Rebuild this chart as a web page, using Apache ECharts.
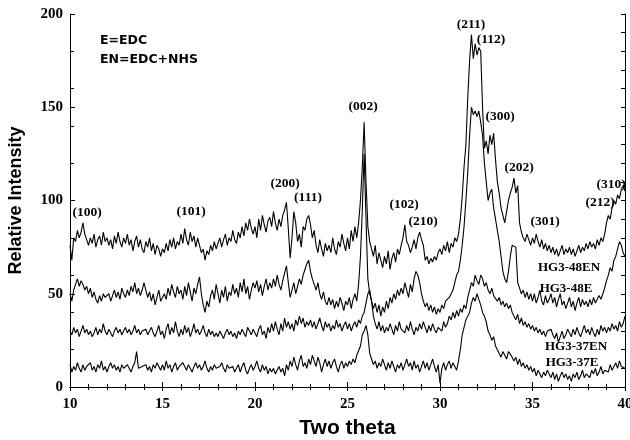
<!DOCTYPE html>
<html><head><meta charset="utf-8">
<script src="https://cdn.jsdelivr.net/npm/echarts@6/dist/echarts.min.js"></script>
<style>html,body{margin:0;padding:0;background:#fff}#c{width:630px;height:440px}</style>
</head><body><div id="c"></div>
<script>
// Two-theta grid: 10.0 to 40.0 in steps of 0.1
const thetaStart = 10, thetaStep = 0.1;
const xTickLabels = ['10','15','20','25','30','35','40'];
const yTickLabels = ['0','50','100','150','200'];
const seriesNames = ['HG3-48EN','HG3-48E','HG3-37EN','HG3-37E'];

const hg48EN = [
76,68,80,78,84,80,83,88,82,79,
76,80,77,82,75,79,81,76,83,78,
80,76,79,74,81,77,83,78,75,80,
77,82,76,79,73,78,81,75,79,74,
72,78,75,80,73,77,71,76,74,70,
74,72,77,73,79,75,80,74,78,76,
82,77,85,79,76,83,78,81,75,80,
76,72,74,68,73,71,76,73,78,74,
77,80,75,79,82,76,80,78,84,79,
77,83,80,86,81,88,84,90,85,82,
86,80,90,84,92,87,83,89,91,86,
94,88,84,90,86,92,95,99,85,69,
80,94,88,78,82,75,86,84,90,92,
87,80,84,76,72,79,74,70,77,73,
76,72,80,74,71,78,75,82,77,73,
80,74,84,78,86,80,88,100,118,142,
110,86,78,74,70,76,66,72,68,64,
70,66,73,63,69,72,67,74,71,76,
80,87,78,76,72,75,79,74,80,83,
79,76,68,70,66,69,67,70,68,72,
74,71,76,73,78,72,77,75,80,78,
82,90,102,118,130,155,175,189,176,184,
178,182,180,150,128,132,125,135,130,136,
122,110,104,96,92,88,94,100,104,107,
112,104,108,88,83,80,78,82,79,76,
80,77,82,78,75,79,74,77,73,76,
72,75,71,74,70,73,76,71,74,72,
75,71,74,70,73,76,72,75,73,77,
74,78,75,77,74,79,76,80,78,82,
88,92,90,96,100,98,103,101,106,108,
105];

const hg48E = [
50,46,52,55,58,54,57,55,52,54,
50,53,48,51,47,45,49,46,50,48,
47,50,46,49,52,48,51,47,53,50,
48,52,49,54,51,56,50,53,49,52,
56,52,48,51,46,50,44,48,52,46,
45,50,47,53,49,55,51,48,54,50,
52,47,54,49,56,51,46,53,50,55,
59,50,44,40,46,43,49,52,47,55,
50,45,52,48,54,46,51,49,55,50,
53,48,56,51,58,50,54,47,52,56,
53,57,51,55,49,54,58,52,56,53,
58,54,60,55,52,57,61,65,56,48,
52,56,50,54,58,55,60,63,66,68,
62,58,55,52,56,50,47,51,46,44,
48,44,47,42,46,43,48,45,41,46,
44,48,42,47,50,46,55,70,95,125,
90,58,50,46,42,45,40,44,38,43,
40,46,42,48,45,50,47,52,49,53,
50,56,52,48,55,51,58,62,60,56,
50,46,43,45,41,44,40,43,39,42,
40,44,42,46,45,48,50,52,56,60,
62,68,76,86,100,115,135,150,146,148,
145,148,142,135,120,110,100,104,106,96,
90,84,78,70,62,58,56,62,70,76,
77,75,56,53,50,52,48,51,47,50,
46,50,45,48,52,46,44,49,45,47,
50,45,48,43,47,50,44,46,42,45,
48,43,46,41,45,48,43,47,44,46,
43,47,44,48,45,46,49,47,50,53,
57,60,64,62,68,70,74,78,76,72,
70];

const hg37EN = [
30,28,32,29,31,27,30,33,29,31,
28,30,27,29,32,28,31,29,34,30,
28,31,29,27,30,32,29,31,28,30,
32,29,31,28,30,33,29,31,28,30,
29,31,28,30,32,29,27,30,33,28,
30,26,31,34,28,32,29,35,30,27,
31,28,33,29,32,27,30,34,29,31,
28,30,33,29,27,31,28,30,27,29,
27,30,28,26,29,31,28,30,27,29,
26,30,28,31,29,27,32,30,28,31,
29,27,31,33,28,30,26,32,29,34,
30,35,31,28,34,30,37,32,35,31,
34,30,36,33,38,34,37,32,35,33,
36,32,35,31,34,37,33,30,35,32,
34,30,33,31,36,32,34,30,33,35,
31,34,30,33,35,32,36,34,38,40,
45,50,52,46,38,34,31,35,30,33,
29,32,30,34,31,28,33,30,35,31,
32,29,33,30,35,31,28,32,30,34,
31,35,32,29,33,30,34,31,29,32,
33,30,35,32,34,38,36,40,37,41,
38,42,40,44,42,48,52,56,54,60,
57,55,60,58,54,56,52,50,53,49,
50,46,48,44,46,43,45,42,44,40,
38,36,39,34,37,33,35,32,34,31,
33,30,32,29,31,28,30,27,30,29,
31,28,26,29,24,27,30,26,28,31,
29,27,31,28,32,29,27,30,33,29,
31,28,32,29,27,31,28,33,30,32,
29,32,30,34,31,33,30,35,32,34,
38];

const hg37E = [
12,8,11,9,13,10,8,12,9,11,
10,13,9,11,8,12,10,14,9,11,
8,11,13,10,12,9,11,8,12,10,
9,12,10,8,11,13,19,10,9,11,
10,12,9,11,8,12,10,13,11,9,
12,9,14,10,12,8,11,13,9,11,
10,13,11,9,12,10,8,11,13,10,
12,9,11,14,10,8,11,9,12,10,
9,11,13,10,8,12,10,9,11,8,
10,12,8,11,13,9,7,10,12,9,
11,14,10,8,12,9,11,7,10,8,
10,7,9,11,8,10,6,12,9,14,
11,16,12,9,14,17,11,13,10,15,
12,17,14,11,16,13,8,12,15,11,
14,10,13,15,11,8,12,14,10,13,
11,14,12,15,13,17,16,22,28,30,
33,28,18,15,12,14,10,13,11,15,
12,9,13,10,14,11,8,12,10,13,
9,12,15,11,13,9,14,10,12,8,
11,14,10,13,9,12,15,11,8,12,
2,10,13,9,12,14,10,13,11,9,
14,20,28,32,36,38,40,45,48,46,
50,47,44,40,38,35,30,28,25,27,
22,20,18,16,19,17,15,19,18,16,
14,16,12,15,11,13,10,12,9,11,
8,10,6,9,7,5,8,6,9,7,
5,8,4,7,3,6,8,5,7,4,
6,3,7,5,8,4,6,9,5,7,
8,5,9,7,10,6,8,11,7,9,
10,8,12,9,11,13,10,14,11,12,
10];

const allSeries = [hg48EN, hg48E, hg37EN, hg37E];

const chart = echarts.init(document.getElementById('c'), null, {renderer:'canvas'});
const toPairs = arr => arr.map((v,i) => [+(thetaStart + i*thetaStep).toFixed(1), v]);

const serifBold = {fontFamily:'Liberation Serif', fontWeight:'bold', color:'#000'};
const lineStyle = {color:'#000', width:1};

function peakLabel(text, x, y, size) {
  return {type:'text', x:x, y:y, style:{text:text, fontSize:size || 13.5, align:'center', verticalAlign:'middle', fill:'#000', fontFamily:'Liberation Serif', fontWeight:'bold'}};
}

chart.setOption({
  animation:false,
  backgroundColor:'#fff',
  grid:{left:70, right:5, top:14, bottom:53, outerBoundsMode:'none'},
  xAxis:[
    {type:'value', min:10, max:40, interval:5, position:'bottom',
     name:'Two theta', nameLocation:'middle', nameGap:31,
     nameTextStyle:{fontFamily:'Liberation Sans', fontWeight:'bold', fontSize:21, color:'#000'},
     axisLine:{lineStyle:lineStyle},
     axisTick:{inside:true, length:5, lineStyle:lineStyle},
     minorTick:{show:true, splitNumber:5, length:3, lineStyle:lineStyle},
     axisLabel:Object.assign({fontSize:15, margin:10, formatter:(v)=>xTickLabels[Math.round((v-10)/5)]}, serifBold),
     splitLine:{show:false}},
    {type:'value', min:10, max:40, interval:5, position:'top',
     axisLine:{lineStyle:lineStyle},
     axisTick:{inside:true, length:4, lineStyle:lineStyle},
     minorTick:{show:true, splitNumber:5, length:3, lineStyle:lineStyle},
     axisLabel:{show:false}, splitLine:{show:false}}
  ],
  yAxis:[
    {type:'value', min:0, max:200, interval:50, position:'left',
     name:'Relative Intensity', nameLocation:'middle', nameGap:45,
     nameTextStyle:{fontFamily:'Liberation Sans', fontWeight:'bold', fontSize:18, color:'#000'},
     axisLine:{show:true, lineStyle:lineStyle},
     axisTick:{show:true, inside:true, length:5, lineStyle:lineStyle},
     axisLabel:Object.assign({fontSize:15, margin:7, formatter:(v)=>yTickLabels[Math.round(v/50)]}, serifBold),
     splitLine:{show:false}},
    {type:'value', min:0, max:200, interval:10, position:'right',
     axisLine:{show:true, lineStyle:lineStyle},
     axisTick:{show:true, inside:true, length:4, lineStyle:lineStyle},
     axisLabel:{show:false}, splitLine:{show:false}},
    {type:'value', min:0, max:200, interval:20, position:'left',
     axisLine:{show:false},
     axisTick:{show:true, inside:true, length:4, lineStyle:lineStyle},
     axisLabel:{show:false}, splitLine:{show:false}}
  ],
  series: allSeries.map((arr, k) => ({
    name:seriesNames[k], type:'line', xAxisIndex:0, yAxisIndex:0,
    data:toPairs(arr), showSymbol:false, symbol:'none',
    lineStyle:{color:'#000', width:1.1}, z:2
  })),
  graphic:[
    {type:'text', x:100, y:41, style:{text:'E=EDC', fontSize:12.5, fontFamily:'DejaVu Sans', fontWeight:'bold', fill:'#000', verticalAlign:'middle'}},
    {type:'text', x:100, y:60, style:{text:'EN=EDC+NHS', fontSize:12.5, fontFamily:'DejaVu Sans', fontWeight:'bold', fill:'#000', verticalAlign:'middle'}},
    peakLabel('(100)', 87, 213),
    peakLabel('(101)', 191, 212),
    peakLabel('(200)', 285, 184),
    peakLabel('(111)', 308, 198),
    peakLabel('(002)', 363, 107),
    peakLabel('(102)', 404, 205),
    peakLabel('(210)', 423, 222),
    peakLabel('(211)', 471, 25),
    peakLabel('(112)', 491, 40),
    peakLabel('(300)', 500, 117),
    peakLabel('(202)', 519, 168),
    peakLabel('(301)', 545, 222),
    peakLabel('(212)', 600, 203),
    peakLabel('(310)', 611, 185),
    peakLabel('HG3-48EN', 569, 268, 13),
    peakLabel('HG3-48E', 566, 289, 13),
    peakLabel('HG3-37EN', 576, 347, 13),
    peakLabel('HG3-37E', 572, 363, 13)
  ]
});
</script></body></html>
